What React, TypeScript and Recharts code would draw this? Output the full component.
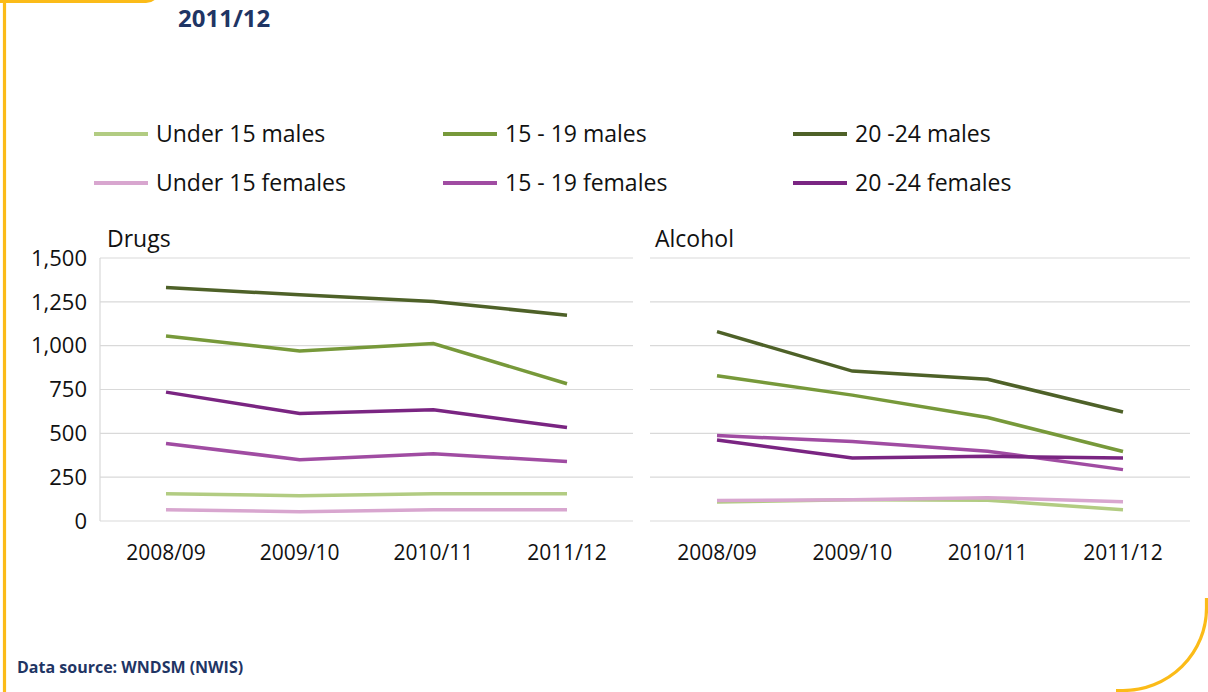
import { LineChart, Line, XAxis, YAxis, CartesianGrid } from "recharts";

const YEARS = ["2008/09", "2009/10", "2010/11", "2011/12"];
const Y_TICKS = [0, 250, 500, 750, 1000, 1250, 1500];

const SERIES = [
  "Under 15 males",
  "15 - 19 males",
  "20 -24 males",
  "Under 15 females",
  "15 - 19 females",
  "20 -24 females",
];
const COLORS = ["#b2cc82", "#77993a", "#4e6128", "#d8a6cf", "#a04ca2", "#7a2582"];

// drugs, one array per series
const drugsU15M = [156, 144, 156, 156];
const drugs1519M = [1055, 970, 1012, 783];
const drugs2024M = [1332, 1290, 1252, 1174];
const drugsU15F = [64, 53, 64, 64];
const drugs1519F = [442, 350, 384, 339];
const drugs2024F = [735, 613, 634, 533];

// alcohol
const alcU15M = [108, 121, 119, 64];
const alc1519M = [828, 718, 590, 396];
const alc2024M = [1080, 855, 808, 622];
const alcU15F = [117, 121, 133, 110];
const alc1519F = [487, 453, 398, 293];
const alc2024F = [462, 359, 369, 359];

const drugs = [drugsU15M, drugs1519M, drugs2024M, drugsU15F, drugs1519F, drugs2024F];
const alcohol = [alcU15M, alc1519M, alc2024M, alcU15F, alc1519F, alc2024F];

const toRows = (cols: number[][]) =>
  YEARS.map((year, i) => {
    const row: Record<string, string | number> = { year };
    SERIES.forEach((s, j) => (row[s] = cols[j][i]));
    return row;
  });

const FONT = "'Open Sans', sans-serif";
const NAVY = "#1f3564";
const YELLOW = "#fbbb18";
const GRID = "#d9d9d9";
const INK = "#111";

function Panel({ data, showAxis }: { data: Record<string, string | number>[]; showAxis: boolean }) {
  // half a category band on each side so points sit in the middle
  const pad = showAxis ? 66 : 67;
  return (
    <LineChart
      width={showAxis ? 640 : 568}
      height={340}
      data={data}
      margin={{ top: 18, right: showAxis ? 7 : 18, bottom: 19, left: showAxis ? 0 : 10 }}
    >
      <CartesianGrid vertical={false} stroke={GRID} strokeWidth={1.2} />
      <XAxis
        dataKey="year"
        height={40}
        padding={{ left: pad, right: pad }}
        axisLine={false}
        tickLine={false}
        tickSize={0}
        tickMargin={24}
        tick={{ fill: INK, fontSize: 21, fontFamily: FONT }}
      />
      <YAxis
        domain={[0, 1500]}
        ticks={Y_TICKS}
        hide={!showAxis}
        width={100}
        axisLine={{ stroke: GRID, strokeWidth: 1.2 }}
        tickLine={false}
        tickSize={0}
        tickMargin={13}
        tickFormatter={(v: number) => v.toLocaleString("en-US")}
        tick={{ fill: INK, fontSize: 22, fontFamily: FONT }}
      />
      {SERIES.map((s, i) => (
        <Line
          key={s}
          dataKey={s}
          type="linear"
          stroke={COLORS[i]}
          strokeWidth={3.5}
          dot={false}
          activeDot={false}
          isAnimationActive={false}
        />
      ))}
    </LineChart>
  );
}

const LEGEND_X = [94, 443, 793];
const LEGEND_Y = [118, 167];

export default function App() {
  return (
    <div style={{ position: "relative", width: 1208, height: 692, background: "#fff", fontFamily: FONT, overflow: "hidden" }}>
      <style>{`body{margin:0}`}</style>

      <svg width={1208} height={692} style={{ position: "absolute", left: 0, top: 0 }}>
        <path d="M 4.5 0 V 692" stroke={YELLOW} strokeWidth={3.2} fill="none" />
        <path d="M 0 1.5 H 146 A 12 12 0 0 0 158 -10.5" stroke={YELLOW} strokeWidth={3.2} fill="none" />
        <path d="M 1206.5 598 V 608 A 83.5 82.5 0 0 1 1123 690.5 H 1116" stroke={YELLOW} strokeWidth={3.2} fill="none" />
      </svg>

      <div style={{ position: "absolute", left: 178, top: 3, fontSize: 24, lineHeight: "30px", fontWeight: 700, color: NAVY }}>
        2011/12
      </div>

      {SERIES.map((s, i) => {
        const col = i % 3;
        const row = Math.floor(i / 3);
        return (
          <div
            key={s}
            style={{
              position: "absolute",
              left: LEGEND_X[col],
              top: LEGEND_Y[row],
              display: "flex",
              alignItems: "center",
              fontSize: 23,
              lineHeight: "30px",
              color: INK,
              whiteSpace: "nowrap",
            }}
          >
            <span style={{ display: "inline-block", width: 54, height: 3.5, background: COLORS[i], marginRight: 8, marginTop: 2 }} />
            {s}
          </div>
        );
      })}

      <div style={{ position: "absolute", left: 107, top: 223, fontSize: 23, lineHeight: "30px", color: INK }}>Drugs</div>
      <div style={{ position: "absolute", left: 655, top: 223, fontSize: 23, lineHeight: "30px", color: INK }}>Alcohol</div>

      <div style={{ position: "absolute", left: 0, top: 240 }}>
        <Panel data={toRows(drugs)} showAxis />
      </div>
      <div style={{ position: "absolute", left: 640, top: 240 }}>
        <Panel data={toRows(alcohol)} showAxis={false} />
      </div>

      <div style={{ position: "absolute", left: 17, top: 657, fontSize: 16, lineHeight: "20px", fontWeight: 700, color: NAVY }}>
        Data source: WNDSM (NWIS)
      </div>
    </div>
  );
}
